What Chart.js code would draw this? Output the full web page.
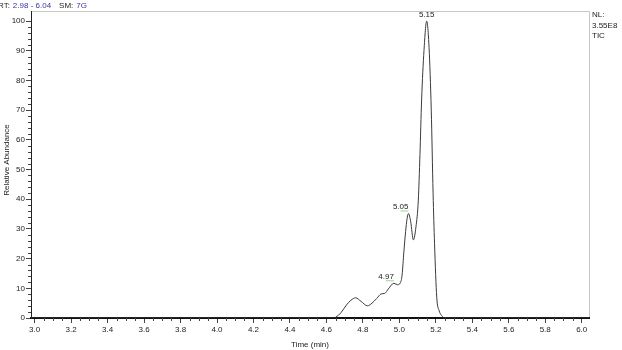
<!DOCTYPE html>
<html>
<head>
<meta charset="utf-8">
<script src="https://cdn.jsdelivr.net/npm/chart.js@4"></script>
<style>
  html, body { margin: 0; padding: 0; background: #fff; }
  canvas { display: block; }
</style>
</head>
<body>
<canvas id="tic" width="622" height="350"></canvas>
<script>
// retention time (min) and relative abundance
var times = [2.98, 4.64, 4.65, 4.68, 4.71, 4.735, 4.76, 4.79, 4.825, 4.85, 4.876, 4.90, 4.92, 4.94, 4.97,
             4.99, 5.005, 5.015, 5.025, 5.04, 5.05, 5.062, 5.077, 5.091, 5.104, 5.113, 5.122, 5.135,
             5.15, 5.163, 5.175, 5.185, 5.193, 5.205, 5.218, 5.232, 5.25, 6.04];
var abundance = [0, 0, 0.2, 1.8, 4.4, 6.0, 6.8, 5.6, 4.1, 5.0, 6.6, 8.1, 8.3, 9.8, 11.7,
                 11.2, 11.8, 14.5, 22.5, 32.4, 35.2, 32.5, 26.3, 30.7, 39.7, 55, 73.4, 90,
                 100, 91, 70, 42, 25, 7, 2.5, 0.8, 0, 0];

var xTickLabels = [3.0, 3.2, 3.4, 3.6, 3.8, 4.0, 4.2, 4.4, 4.6, 4.8, 5.0, 5.2, 5.4, 5.6, 5.8, 6.0];
var yTickLabels = [0, 10, 20, 30, 40, 50, 60, 70, 80, 90, 100];

var peakTimes = [4.97, 5.05, 5.15];
var peakLabels = ['4.97', '5.05', '5.15'];

var header = ['RT:', '2.98 - 6.04', 'SM:', '7G'];
var sideText = ['NL:', '3.55E8', 'TIC'];

var points = [];
for (var i = 0; i < times.length; i++) {
    points.push({ x: times[i], y: abundance[i] });
}

Chart.defaults.font.family = '"Liberation Sans", Arial, sans-serif';
Chart.defaults.font.size = 8;
Chart.defaults.color = '#222';

// frame, minor ticks, peak labels and the header texts
var decorations = {
    id: 'decorations',
    beforeDraw: function (chart) {
        var ctx = chart.ctx, a = chart.chartArea;
        ctx.save();
        ctx.strokeStyle = '#c8c8c8';
        ctx.lineWidth = 1;
        ctx.beginPath();
        ctx.moveTo(a.left, a.top + 0.5);
        ctx.lineTo(a.right + 0.5, a.top + 0.5);
        ctx.lineTo(a.right + 0.5, a.bottom);
        ctx.stroke();
        ctx.restore();
    },
    afterDraw: function (chart) {
        var ctx = chart.ctx, a = chart.chartArea;
        var xs = chart.scales.x, ys = chart.scales.y;
        ctx.save();
        ctx.strokeStyle = '#444';
        ctx.lineWidth = 1;
        ctx.beginPath();
        for (var k = 60; k <= 120; k++) {
            if (k % 4 === 0) continue;
            var px = Math.round(xs.getPixelForValue(k * 0.05)) + 0.5;
            ctx.moveTo(px, a.bottom);
            ctx.lineTo(px, a.bottom + 3);
        }
        for (var v = 0; v <= 100; v += 2) {
            if (v % 10 === 0) continue;
            var py = Math.round(ys.getPixelForValue(v)) + 0.5;
            ctx.moveTo(a.left - 3, py);
            ctx.lineTo(a.left, py);
        }
        ctx.stroke();

        // peak labels
        ctx.font = '8px "Liberation Sans", Arial, sans-serif';
        ctx.fillStyle = '#222';
        ctx.textBaseline = 'alphabetic';
        for (var p = 0; p < peakTimes.length; p++) {
            var idx = times.indexOf(peakTimes[p]);
            var lx = xs.getPixelForValue(peakTimes[p]);
            var ly = ys.getPixelForValue(abundance[idx]) - 4;
            var last = p === peakTimes.length - 1;
            ctx.textAlign = last ? 'center' : 'right';
            ctx.fillText(peakLabels[p], lx, ly);
            if (!last) {
                ctx.strokeStyle = '#9ad49a';
                ctx.beginPath();
                ctx.moveTo(lx - 8, ly + 1.5);
                ctx.lineTo(lx, ly + 1.5);
                ctx.stroke();
            }
        }

        // header line
        ctx.textAlign = 'left';
        var hx = -2;
        for (var h = 0; h < header.length; h++) {
            ctx.fillStyle = h % 2 === 0 ? '#222' : '#3535a5';
            ctx.fillText(header[h], hx, 8);
            hx += ctx.measureText(header[h]).width + (h % 2 === 0 ? 3 : 8);
        }

        // right side text
        ctx.fillStyle = '#222';
        for (var s = 0; s < sideText.length; s++) {
            ctx.fillText(sideText[s], 592, 17 + s * 10.7);
        }

        // axis titles
        ctx.textAlign = 'center';
        ctx.fillText('Time (min)', (a.left + a.right) / 2, 347);
        ctx.translate(9, 160);
        ctx.rotate(-Math.PI / 2);
        ctx.fillText('Relative Abundance', 0, 0);
        ctx.restore();
    }
};

new Chart(document.getElementById('tic'), {
    type: 'line',
    data: {
        datasets: [{
            data: points,
            borderColor: '#3a3a3a',
            borderWidth: 1,
            pointRadius: 0,
            fill: false,
            cubicInterpolationMode: 'monotone'
        }]
    },
    options: {
        responsive: false,
        animation: false,
        devicePixelRatio: 1,
        layout: { padding: { top: 11, right: 33, left: 0, bottom: 0 } },
        plugins: { legend: { display: false }, tooltip: { enabled: false } },
        scales: {
            x: {
                type: 'linear',
                min: 2.98,
                max: 6.04,
                afterFit: function (s) { s.height = 32; },
                afterBuildTicks: function (s) {
                    s.ticks = xTickLabels.map(function (v) { return { value: v }; });
                },
                grid: { drawOnChartArea: false, drawTicks: true, tickLength: 5, color: '#444' },
                border: { display: true, color: '#111', width: 2 },
                ticks: {
                    padding: 2,
                    maxRotation: 0,
                    autoSkip: false,
                    callback: function (v) { return v.toFixed(1); }
                }
            },
            y: {
                min: 0,
                max: 103.4,
                afterFit: function (s) { s.width = 31; },
                afterBuildTicks: function (s) {
                    s.ticks = yTickLabels.map(function (v) { return { value: v }; });
                },
                grid: { drawOnChartArea: false, drawTicks: true, tickLength: 5, color: '#444' },
                border: { display: true, color: '#222', width: 1 },
                ticks: {
                    padding: 1,
                    autoSkip: false,
                    callback: function (v) { return String(v); }
                }
            }
        }
    },
    plugins: [decorations]
});
</script>
</body>
</html>
